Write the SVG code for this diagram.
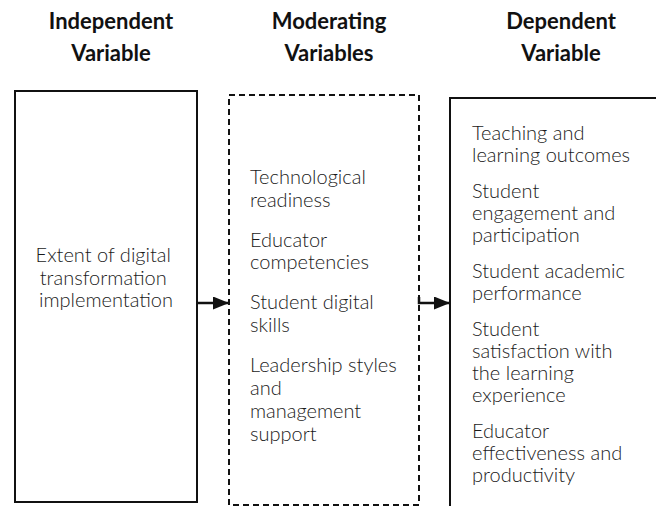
<svg xmlns="http://www.w3.org/2000/svg" width="656" height="506" viewBox="0 0 656 506">
  <style>
    .title { font-family: Lato, "Liberation Sans", sans-serif; font-weight: 700; font-size: 22px; fill: #111; text-anchor: middle; }
    .body { font-family: Lato, "Liberation Sans", sans-serif; font-weight: 300; font-size: 20px; fill: #1a1a1a; }
    .box { fill: #fff; stroke: #111; stroke-width: 2; }
    .dashed { fill: #fff; stroke: #111; stroke-width: 2; stroke-dasharray: 6 4; }
    .link { fill: none; stroke: #111; stroke-width: 2.5; }
  </style>
  <defs>
    <marker id="arrow" viewBox="0 0 16 13" refX="16" refY="6.5" markerWidth="16" markerHeight="13" markerUnits="userSpaceOnUse" orient="auto">
      <path d="M0,0 L16,6.5 L0,13 Z" fill="#111"/>
    </marker>
  </defs>
  <rect width="656" height="506" fill="#fff"/>

  <!-- column headings -->
  <g id="headings">
    <text class="title" x="111" y="29">Independent</text>
    <text class="title" x="111" y="61">Variable</text>
    <text class="title" x="329" y="29">Moderating</text>
    <text class="title" x="329" y="61">Variables</text>
    <text class="title" x="561" y="29">Dependent</text>
    <text class="title" x="561" y="61">Variable</text>
  </g>

  <!-- independent variable -->
  <g id="independent">
    <rect class="box" x="15" y="91" width="182" height="411"/>
    <text class="body" text-anchor="middle">
      <tspan x="106" y="262">Extent of digital</tspan>
      <tspan x="106" y="284.5">transformation</tspan>
      <tspan x="106" y="307">implementation</tspan>
    </text>
  </g>

  <!-- moderating variables -->
  <g id="moderating">
    <rect class="dashed" x="229" y="95" width="190" height="410"/>
    <text class="body">
      <tspan x="250" y="184">Technological</tspan>
      <tspan x="250" y="207">readiness</tspan>
      <tspan x="250" y="247">Educator</tspan>
      <tspan x="250" y="269">competencies</tspan>
      <tspan x="250" y="309">Student digital</tspan>
      <tspan x="250" y="332">skills</tspan>
      <tspan x="250" y="372">Leadership styles</tspan>
      <tspan x="250" y="395">and</tspan>
      <tspan x="250" y="418">management</tspan>
      <tspan x="250" y="441">support</tspan>
    </text>
  </g>

  <!-- dependent variable -->
  <g id="dependent">
    <rect class="box" x="450" y="98" width="240" height="430"/>
    <text class="body">
      <tspan x="472" y="140">Teaching and</tspan>
      <tspan x="472" y="162">learning outcomes</tspan>
      <tspan x="472" y="198">Student</tspan>
      <tspan x="472" y="220">engagement and</tspan>
      <tspan x="472" y="242">participation</tspan>
      <tspan x="472" y="278">Student academic</tspan>
      <tspan x="472" y="300">performance</tspan>
      <tspan x="472" y="336">Student</tspan>
      <tspan x="472" y="358">satisfaction with</tspan>
      <tspan x="472" y="380">the learning</tspan>
      <tspan x="472" y="402">experience</tspan>
      <tspan x="472" y="438">Educator</tspan>
      <tspan x="472" y="460">effectiveness and</tspan>
      <tspan x="472" y="482">productivity</tspan>
    </text>
  </g>

  <!-- connectors -->
  <g id="connectors">
    <path class="link" d="M197,303 L229,303" marker-end="url(#arrow)"/>
    <path class="link" d="M419,297 L419,303 L450,303" marker-end="url(#arrow)"/>
  </g>
</svg>
